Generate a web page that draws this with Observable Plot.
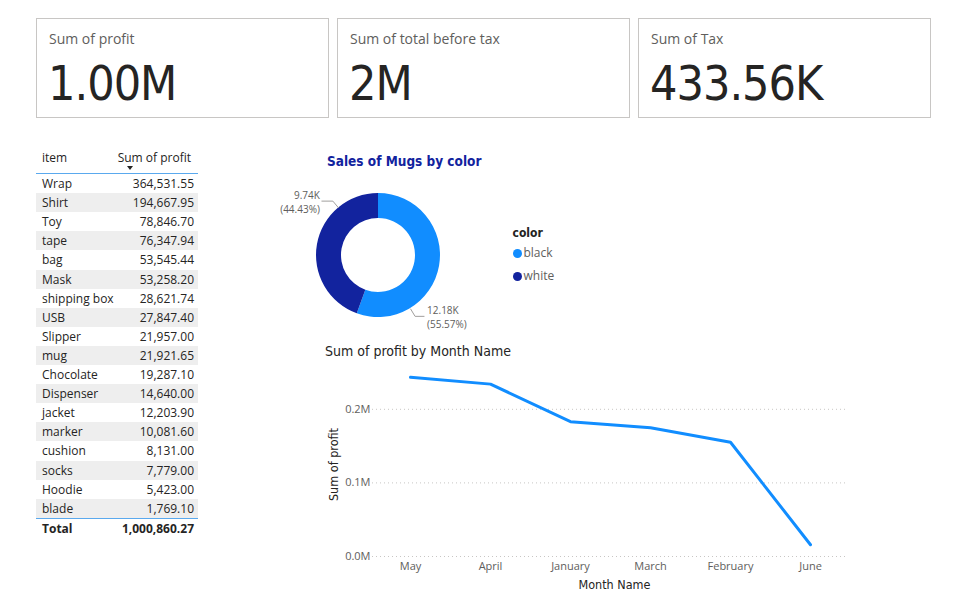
<!DOCTYPE html>
<html><head><meta charset="utf-8">
<script src="https://cdn.jsdelivr.net/npm/d3@7"></script>
<script src="https://cdn.jsdelivr.net/npm/@observablehq/plot@0.6"></script>
<style>
html,body{margin:0;padding:0;background:#fff;}
body{width:966px;height:608px;position:relative;overflow:hidden;font-family:"Open Sans","Noto Sans",sans-serif;color:#252423;}
.card{position:absolute;top:18px;height:100px;border:1px solid #c8c6c4;box-sizing:border-box;}
.card .t{position:absolute;left:12px;top:10px;font-size:14px;color:#605e5c;white-space:nowrap;}
.card .v{position:absolute;left:11px;top:36px;font-family:"DejaVu Sans Condensed","DejaVu Sans",sans-serif;font-size:48px;color:#252423;white-space:nowrap;letter-spacing:-1px;}
.tbl{position:absolute;left:36px;top:148px;width:162px;font-size:12px;}
.row{position:absolute;left:0;width:162px;height:19.1px;line-height:19.1px;}
.row .a{position:absolute;left:6px;white-space:nowrap;}
.row .b{position:absolute;right:4px;white-space:nowrap;}
.title{position:absolute;white-space:nowrap;}
svg{position:absolute;overflow:visible;}
</style></head>
<body>
<div id="cards"></div>
<div class="tbl" id="tbl"></div>
<div class="title" style="left:327px;top:153px;font-family:'DejaVu Sans Condensed','DejaVu Sans';font-weight:bold;font-size:13.5px;color:#12239E;">Sales of Mugs by color</div>
<div class="title" style="left:325px;top:343px;font-family:'DejaVu Sans Condensed','DejaVu Sans';font-size:14px;color:#252423;">Sum of profit by Month Name</div>
<div id="donut"></div>
<div id="line"></div>
<script>
// ---------- data ----------
const cardTitles = ["Sum of profit", "Sum of total before tax", "Sum of Tax"];
const cardValues = ["1.00M", "2M", "433.56K"];

const items = ["Wrap","Shirt","Toy","tape","bag","Mask","shipping box","USB","Slipper","mug","Chocolate","Dispenser","jacket","marker","cushion","socks","Hoodie","blade"];
const itemProfits = [364531.55,194667.95,78846.70,76347.94,53545.44,53258.20,28621.74,27847.40,21957.00,21921.65,19287.10,14640.00,12203.90,10081.60,8131.00,7779.00,5423.00,1769.10];
const tableHeaders = ["item", "Sum of profit"];

const mugColors = ["black", "white"];
const mugSales = [12180, 9740];

const months = ["May","April","January","March","February","June"];
const monthProfits = [243400, 234200, 183200, 174900, 155200, 16000];

// ---------- cards ----------
const cardLefts = [36, 337, 638], cardW = 293;
const cards = document.getElementById("cards");
cardTitles.forEach((t, i) => {
  const c = document.createElement("div");
  c.className = "card";
  c.style.left = cardLefts[i] + "px";
  c.style.width = cardW + "px";
  c.innerHTML = `<div class="t">${t}</div><div class="v">${cardValues[i]}</div>`;
  cards.appendChild(c);
});

// ---------- table ----------
const fmt = d3.format(",.2f");
const tbl = document.getElementById("tbl");
const rowH = 19.1, firstTop = 26;
let html = `<div class="row" style="top:0;height:26px;line-height:20px;"><span class="a">${tableHeaders[0]}</span><span class="b" style="right:7px;">${tableHeaders[1]}</span>
<span style="position:absolute;left:91px;top:18px;width:0;height:0;border-left:3.5px solid transparent;border-right:3.5px solid transparent;border-top:4px solid #252423;"></span></div>
<div style="position:absolute;left:0;top:25px;width:162px;height:1px;background:#5aa9ee;"></div>`;
items.forEach((it, i) => {
  const bg = i % 2 === 1 ? "background:#eeeeee;" : "";
  html += `<div class="row" style="top:${firstTop + i*rowH}px;${bg}"><span class="a">${it}</span><span class="b">${fmt(itemProfits[i])}</span></div>`;
});
const totTop = firstTop + items.length*rowH;
html += `<div style="position:absolute;left:0;top:${totTop}px;width:162px;height:1px;background:#5aa9ee;"></div>`;
html += `<div class="row" style="top:${totTop+1}px;font-weight:bold;"><span class="a">Total</span><span class="b">${fmt(d3.sum(itemProfits))}</span></div>`;
tbl.innerHTML = html;

// ---------- donut ----------
const mugData = mugColors.map((c, i) => ({color: c, value: mugSales[i]}));
const total = d3.sum(mugSales);
const dW = 300, dH = 170, dLeft = 270, dTop = 180;
const cx = 108, cy = 75, rIn = 37, rOut = 62;
const arcs = d3.pie().sort(null).value(d => d.value)(mugData);
// leader-line angles (layout, degrees clockwise from 12 o'clock)
const labelAngle = {black: 149, white: 320};
const leaders = [], labels = [];
arcs.forEach(a => {
  const ang = labelAngle[a.data.color] * Math.PI / 180;
  const right = Math.sin(ang) > 0;
  const p0 = [cx + (rOut+0.5)*Math.sin(ang), cy - (rOut+0.5)*Math.cos(ang)];
  const p1 = [cx + (rOut+9)*Math.sin(ang), cy - (rOut+9)*Math.cos(ang)];
  const p2 = [p1[0] + (right ? 9 : -11), p1[1]];
  [p0, p1, p2].forEach(p => leaders.push({k: a.data.color, x: p[0], y: p[1]}));
  const tx = p2[0] + (right ? 3 : -2);
  labels.push({x: tx, y: p1[1] - 5.5, text: (a.data.value/1000).toFixed(2) + "K", anchor: right ? "start" : "end"});
  labels.push({x: tx, y: p1[1] + 8.5, text: "(" + (a.data.value/total*100).toFixed(2) + "%)", anchor: right ? "start" : "end"});
});
const legendX = 247, legendTop = 73, legendStep = 23;
const donutMark = (index, scales) => {
  const g = d3.create("svg:g").attr("transform", `translate(${cx},${cy})`);
  g.selectAll("path").data(arcs).join("path")
    .attr("d", d3.arc().innerRadius(rIn).outerRadius(rOut))
    .attr("fill", d => scales.color(d.data.color));
  return g.node();
};
const donut = Plot.plot({
  width: dW, height: dH, margin: 0,
  x: {type: "identity", axis: null}, y: {type: "identity", axis: null},
  color: {type: "ordinal", domain: mugColors, range: ["#118DFF", "#12239E"]},
  style: {background: "transparent", fontFamily: "'Open Sans','Noto Sans',sans-serif", fontSize: "10px", overflow: "visible"},
  marks: [
    donutMark,
    Plot.line(leaders, {x: "x", y: "y", z: "k", stroke: "#a19f9d", strokeWidth: 1}),
    Plot.text(labels.filter(d => d.anchor === "start"), {x: "x", y: "y", text: "text", textAnchor: "start", fill: "#605e5c", fontSize: 10}),
    Plot.text(labels.filter(d => d.anchor === "end"), {x: "x", y: "y", text: "text", textAnchor: "end", fill: "#605e5c", fontSize: 10}),
    Plot.text(["color"], {x: legendX - 5, y: legendTop - 20, textAnchor: "start", fontWeight: "bold", fontSize: 12, fill: "#252423", fontFamily: "'DejaVu Sans Condensed','DejaVu Sans'"}),
    Plot.dot(mugColors, {x: legendX, y: (d, i) => legendTop + i*legendStep, fill: {value: d => d, scale: "color"}, r: 4.5}),
    Plot.text(mugColors, {x: legendX + 6, y: (d, i) => legendTop + i*legendStep, text: d => d, textAnchor: "start", fill: "#605e5c", fontSize: 12})
  ]
});
donut.style.left = dLeft + "px"; donut.style.top = dTop + "px";
document.getElementById("donut").appendChild(donut);

// ---------- line chart ----------
const monthData = months.map((m, i) => ({month: m, profit: monthProfits[i]}));
const yTicks = [0, 100000, 200000];
const lineChart = Plot.plot({
  width: 560, height: 240,
  marginLeft: 62, marginRight: 22, marginTop: 12, marginBottom: 44,
  x: {type: "point", domain: months, padding: 0.47, label: null},
  y: {domain: [0, 250000], label: null},
  style: {background: "transparent", fontFamily: "'Open Sans','Noto Sans',sans-serif", fontSize: "11px", color: "#605e5c", overflow: "visible"},
  marks: [
    Plot.ruleY(yTicks, {stroke: "#c8c6c4", strokeDasharray: "1,3", strokeWidth: 1}),
    Plot.axisY(yTicks, {tickSize: 0, tickPadding: 2, tickFormat: d => (d/1e6).toFixed(1) + "M", label: null, fill: "#605e5c"}),
    Plot.axisX({tickSize: 0, tickPadding: 6, label: null, fill: "#605e5c"}),
    Plot.line(monthData, {x: "month", y: "profit", stroke: "#118DFF", strokeWidth: 3}),
    Plot.text(["Sum of profit"], {frameAnchor: "left", textAnchor: "middle", lineAnchor: "middle", rotate: -90, dx: -39, fill: "#252423", fontSize: 12.5, fontFamily: "'DejaVu Sans Condensed','DejaVu Sans'"}),
    Plot.text(["Month Name"], {frameAnchor: "bottom", textAnchor: "middle", lineAnchor: "middle", dy: 28, dx: 4, fill: "#252423", fontSize: 12.5, fontFamily: "'DejaVu Sans Condensed','DejaVu Sans'"})
  ]
});
lineChart.style.left = "310px"; lineChart.style.top = "360px";
document.getElementById("line").appendChild(lineChart);
</script>
</body></html>
